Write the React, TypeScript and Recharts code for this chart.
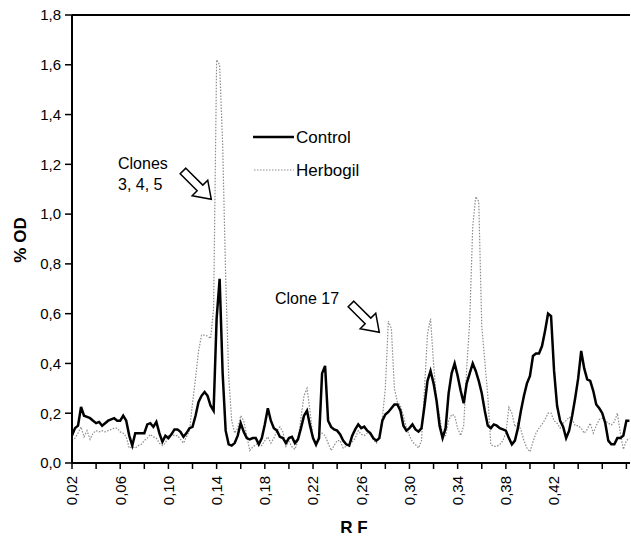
import React from 'react';
import { LineChart, Line, XAxis, YAxis, ReferenceLine } from 'recharts';

// RF positions (densitometer scan)
const rf = [
  0.02, 0.0225, 0.025, 0.0275, 0.03, 0.0325, 0.035, 0.0375, 0.04, 0.0425,
  0.045, 0.0475, 0.05, 0.0525, 0.055, 0.0575, 0.06, 0.0625, 0.065, 0.0675,
  0.07, 0.0725, 0.075, 0.0775, 0.08, 0.0825, 0.085, 0.0875, 0.09, 0.0925,
  0.095, 0.0975, 0.1, 0.1025, 0.105, 0.1075, 0.11, 0.1125, 0.115, 0.1175,
  0.12, 0.1225, 0.125, 0.1275, 0.13, 0.1325, 0.135, 0.1375, 0.14, 0.1425,
  0.145, 0.1475, 0.15, 0.1525, 0.155, 0.1575, 0.16, 0.1625, 0.165, 0.1675,
  0.17, 0.1725, 0.175, 0.1775, 0.18, 0.1825, 0.185, 0.1875, 0.19, 0.1925,
  0.195, 0.1975, 0.2, 0.2025, 0.205, 0.2075, 0.21, 0.2125, 0.215, 0.2175,
  0.22, 0.2225, 0.225, 0.2275, 0.23, 0.2325, 0.235, 0.2375, 0.24, 0.2425,
  0.245, 0.2475, 0.25, 0.2525, 0.255, 0.2575, 0.26, 0.2625, 0.265, 0.2675,
  0.27, 0.2725, 0.275, 0.2775, 0.28, 0.2825, 0.285, 0.2875, 0.29, 0.2925,
  0.295, 0.2975, 0.3, 0.3025, 0.305, 0.3075, 0.31, 0.3125, 0.315, 0.3175,
  0.32, 0.3225, 0.325, 0.3275, 0.33, 0.3325, 0.335, 0.3375, 0.34, 0.3425,
  0.345, 0.3475, 0.35, 0.3525, 0.355, 0.3575, 0.36, 0.3625, 0.365, 0.3675,
  0.37, 0.3725, 0.375, 0.3775, 0.38, 0.3825, 0.385, 0.3875, 0.39, 0.3925,
  0.395, 0.3975, 0.4, 0.4025, 0.405, 0.4075, 0.41, 0.4125, 0.415, 0.4175,
  0.42, 0.4225, 0.425, 0.4275, 0.43, 0.4325, 0.435, 0.4375, 0.44, 0.4425,
  0.445, 0.4475, 0.45, 0.4525, 0.455, 0.4575, 0.46, 0.4625, 0.465, 0.4675,
  0.47, 0.4725, 0.475, 0.4775, 0.48, 0.4825,
];

// % OD, control
const control = [
  0.11, 0.14, 0.15, 0.225, 0.19, 0.185, 0.18, 0.17, 0.16, 0.165,
  0.15, 0.16, 0.17, 0.175, 0.18, 0.17, 0.17, 0.19, 0.17, 0.11,
  0.07, 0.12, 0.12, 0.12, 0.12, 0.155, 0.16, 0.145, 0.165, 0.12,
  0.085, 0.11, 0.1, 0.115, 0.135, 0.135, 0.125, 0.105, 0.12, 0.14,
  0.145, 0.19, 0.245, 0.27, 0.285, 0.27, 0.23, 0.21, 0.58, 0.74,
  0.36, 0.13, 0.075, 0.07, 0.08, 0.11, 0.16, 0.125, 0.1, 0.095,
  0.1, 0.1, 0.075, 0.1, 0.155, 0.22, 0.17, 0.14, 0.13, 0.105,
  0.1, 0.08, 0.1, 0.105, 0.08, 0.095, 0.14, 0.19, 0.21, 0.15,
  0.1, 0.074, 0.1, 0.36, 0.39, 0.17, 0.145, 0.135, 0.13, 0.115,
  0.09, 0.075, 0.07, 0.11, 0.135, 0.155, 0.14, 0.146, 0.13, 0.12,
  0.1, 0.09, 0.1, 0.17, 0.195, 0.205, 0.22, 0.235, 0.235, 0.21,
  0.15, 0.13, 0.14, 0.155, 0.135, 0.126, 0.14, 0.23, 0.33, 0.37,
  0.32, 0.25, 0.15, 0.1, 0.14, 0.28, 0.36, 0.4, 0.35, 0.29,
  0.24, 0.32, 0.36, 0.4, 0.37, 0.33, 0.28, 0.21, 0.15, 0.14,
  0.155, 0.15, 0.14, 0.135, 0.13, 0.1, 0.075, 0.09, 0.14, 0.21,
  0.27, 0.32, 0.35, 0.43, 0.44, 0.44, 0.47, 0.53, 0.6, 0.59,
  0.37, 0.23, 0.17, 0.146, 0.1, 0.13, 0.19, 0.26, 0.34, 0.45,
  0.38, 0.336, 0.33, 0.29, 0.235, 0.22, 0.2, 0.16, 0.09, 0.075,
  0.075, 0.1, 0.1, 0.11, 0.17, 0.17,
];

// % OD, Herbogil
const herbogil = [
  0.09, 0.1, 0.12, 0.145, 0.105, 0.13, 0.095, 0.12, 0.13, 0.125,
  0.13, 0.125, 0.13, 0.135, 0.14, 0.14, 0.125, 0.12, 0.105, 0.06,
  0.065, 0.06, 0.07, 0.075, 0.09, 0.1, 0.115, 0.105, 0.1, 0.08,
  0.07, 0.08, 0.11, 0.115, 0.11, 0.11, 0.095, 0.08, 0.105, 0.13,
  0.24, 0.34, 0.45, 0.514, 0.514, 0.51, 0.5, 0.62, 1.62, 1.6,
  1.28, 0.75, 0.35, 0.17, 0.12, 0.14, 0.19, 0.17, 0.11, 0.05,
  0.065, 0.074, 0.08, 0.07, 0.09, 0.105, 0.08, 0.1, 0.13, 0.145,
  0.125, 0.067, 0.087, 0.065, 0.055, 0.09, 0.18, 0.27, 0.3, 0.21,
  0.1, 0.067, 0.115, 0.12, 0.11, 0.08, 0.05, 0.07, 0.09, 0.09,
  0.06, 0.067, 0.075, 0.085, 0.1, 0.13, 0.115, 0.11, 0.12, 0.115,
  0.095, 0.08, 0.1, 0.18, 0.3, 0.57, 0.54, 0.3, 0.245, 0.23,
  0.19, 0.14, 0.11, 0.085, 0.074, 0.06, 0.09, 0.3, 0.52, 0.58,
  0.4, 0.25, 0.19, 0.11, 0.11, 0.17, 0.195, 0.19, 0.14, 0.11,
  0.15, 0.38, 0.57, 0.95, 1.07, 1.05, 0.55, 0.41, 0.27, 0.074,
  0.067, 0.067, 0.074, 0.09, 0.12, 0.224, 0.2, 0.146, 0.16, 0.133,
  0.09, 0.06, 0.045, 0.085, 0.12, 0.14, 0.155, 0.175, 0.2, 0.2,
  0.17, 0.16, 0.14, 0.16, 0.17, 0.185, 0.175, 0.15, 0.15, 0.14,
  0.12, 0.135, 0.16, 0.12, 0.15, 0.175, 0.18, 0.17, 0.16, 0.153,
  0.165, 0.2, 0.12, 0.055, 0.09, 0.1,
];

const yTicks = [0, 0.2, 0.4, 0.6, 0.8, 1.0, 1.2, 1.4, 1.6, 1.8];
const xTicks = [
  0.02, 0.04, 0.06, 0.08, 0.1, 0.12, 0.14, 0.16, 0.18, 0.2, 0.22, 0.24,
  0.26, 0.28, 0.3, 0.32, 0.34, 0.36, 0.38, 0.4, 0.42, 0.44, 0.46, 0.48,
];
const xLabels = ['0,02', '0,06', '0,10', '0,14', '0,18', '0,22', '0,26', '0,30', '0,34', '0,38', '0,42'];

const data = rf.map((x, i) => ({ rf: x, control: control[i], herbogil: herbogil[i] }));

const FONT = '"Liberation Sans", Arial, Helvetica, sans-serif';
const GREY = '#8c8c8c';

const XTick = (props: any) => {
  const { x, y, payload } = props;
  const label = Number(payload.value).toFixed(2).replace('.', ',');
  if (!xLabels.includes(label)) return <g />;
  return (
    <text
      x={x}
      y={y}
      dy="0.36em"
      transform={`rotate(-90, ${x}, ${y})`}
      textAnchor="end"
      fontSize={15}
      fontFamily={FONT}
      fill="#000"
    >
      {label}
    </text>
  );
};

const Arrow = ({ x, y }: { x: number; y: number }) => (
  <path
    d="M0,-4 L24,-4 L24,-11 L40,0 L24,11 L24,4 L0,4 Z"
    transform={`translate(${x},${y}) rotate(45)`}
    fill="#fff"
    stroke="#000"
    strokeWidth={1.5}
    strokeLinejoin="miter"
  />
);

const App = () => {
  return (
    <div style={{ position: 'absolute', left: 0, top: 0, width: 631, height: 542, background: '#fff' }}>
      <LineChart
        width={631}
        height={542}
        data={data}
        margin={{ top: 15, right: 1, bottom: 0, left: 0 }}
      >
        <XAxis
          dataKey="rf"
          type="number"
          domain={[0.02, 0.483]}
          ticks={xTicks}
          interval={0}
          height={79}
          tickSize={6}
          tickMargin={7}
          tick={<XTick />}
          axisLine={{ stroke: '#000', strokeWidth: 2 }}
          tickLine={{ stroke: '#000', strokeWidth: 1.5 }}
          allowDataOverflow
        />
        <YAxis
          type="number"
          domain={[0, 1.8]}
          ticks={yTicks}
          interval={0}
          width={72}
          tickSize={7}
          tickMargin={4}
          tickFormatter={(v: number) => v.toFixed(1).replace('.', ',')}
          tick={{ fill: '#000', fontSize: 15, fontFamily: FONT }}
          axisLine={{ stroke: '#000', strokeWidth: 2 }}
          tickLine={{ stroke: '#000', strokeWidth: 1.5 }}
        />
        <ReferenceLine y={1.8} stroke="#000" strokeWidth={2} />
        <Line
          type="linear"
          dataKey="herbogil"
          stroke={GREY}
          strokeWidth={1.2}
          strokeDasharray="1.5 1.5"
          dot={false}
          isAnimationActive={false}
        />
        <Line
          type="linear"
          dataKey="control"
          stroke="#000"
          strokeWidth={2.5}
          dot={false}
          isAnimationActive={false}
        />
      </LineChart>

      <svg
        width={631}
        height={542}
        style={{ position: 'absolute', left: 0, top: 0, pointerEvents: 'none' }}
        fontFamily={FONT}
      >
        {/* axis titles */}
        <text
          x={20}
          y={240}
          transform="rotate(-90, 20, 240)"
          textAnchor="middle"
          dominantBaseline="central"
          fontSize={17}
          fontWeight="bold"
        >
          % OD
        </text>
        <text x={354} y={527} textAnchor="middle" dominantBaseline="central" fontSize={17} fontWeight="bold">
          R F
        </text>

        {/* legend */}
        <line x1={253} y1={137} x2={294} y2={137} stroke="#000" strokeWidth={2.5} />
        <text x={296} y={137} dominantBaseline="central" fontSize={17}>Control</text>
        <line x1={254} y1={170} x2={294} y2={170} stroke={GREY} strokeWidth={1.2} strokeDasharray="1.5 1.5" />
        <text x={296} y={170} dominantBaseline="central" fontSize={17}>Herbogil</text>

        {/* annotations */}
        <text x={118} y={163} dominantBaseline="central" fontSize={16}>Clones</text>
        <text x={118} y={184} dominantBaseline="central" fontSize={16}>3, 4, 5</text>
        <Arrow x={183} y={171} />
        <text x={275} y={298} dominantBaseline="central" fontSize={16}>Clone 17</text>
        <Arrow x={351} y={304} />
      </svg>
    </div>
  );
};

export default App;
